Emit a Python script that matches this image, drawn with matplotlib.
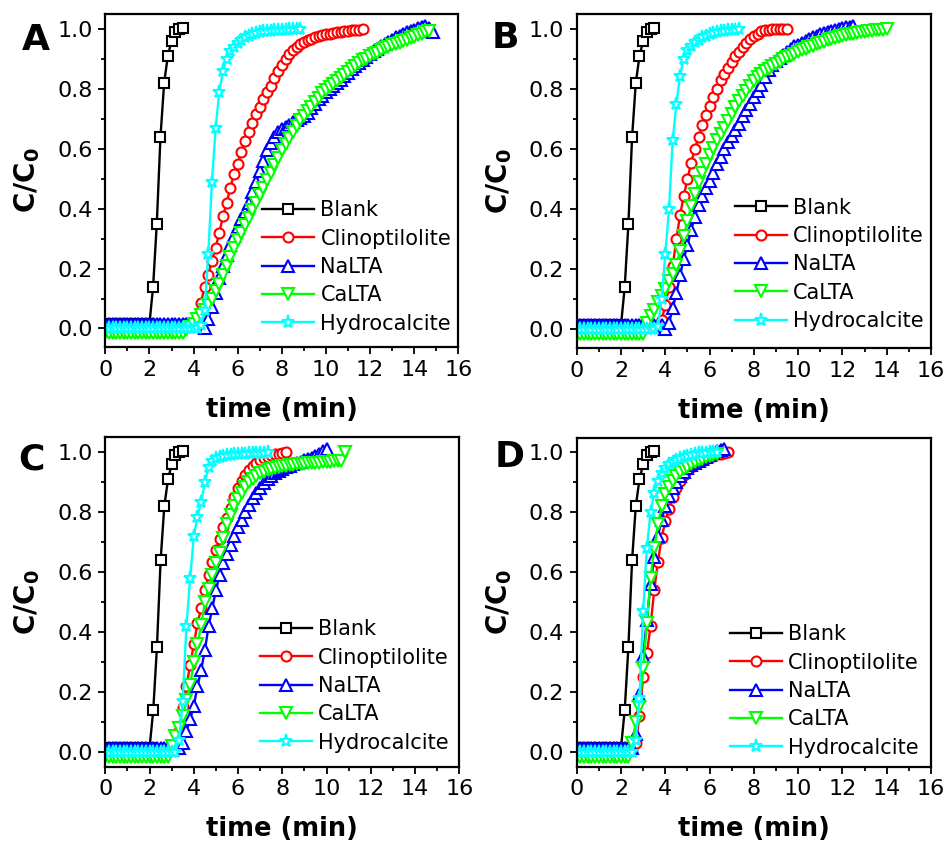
import numpy as np
import matplotlib
matplotlib.use("Agg")
import matplotlib.pyplot as plt
from matplotlib.ticker import MultipleLocator

# sampling interval of the breakthrough data (min)
dt = 1 / 6

labels = ["Blank", "Clinoptilolite", "NaLTA", "CaLTA", "Hydrocalcite"]
colors = ["black", "red", "blue", "#00ff00", "cyan"]
markers = ["s", "o", "^", "v", "*"]
msizes = [6.5, 7.2, 8.2, 8.2, 9.5]

# C/C0, one value per sample
blank = [0.015] * 13 + [0.14, 0.35, 0.64, 0.82, 0.91, 0.96, 0.99, 1.0, 1.005]

# panel A
A_clino = [0.008] * 25 + [
    0.03, 0.085, 0.14, 0.18, 0.225, 0.27, 0.32, 0.375, 0.42, 0.47,
    0.515, 0.55, 0.59, 0.625, 0.655, 0.685, 0.715, 0.74, 0.765, 0.79,
    0.81, 0.835, 0.86, 0.88, 0.9, 0.915, 0.93, 0.94, 0.95, 0.957,
    0.963, 0.968, 0.972, 0.976, 0.979, 0.982, 0.985, 0.987, 0.989, 0.991,
    0.993, 0.995, 0.996, 0.997, 0.998, 0.999]
A_naLTA = [0.015] * 27 + [
    0.0, 0.03, 0.07, 0.12, 0.17, 0.21, 0.245, 0.28, 0.31, 0.34,
    0.365, 0.39, 0.42, 0.455, 0.49, 0.525, 0.56, 0.595, 0.62, 0.64,
    0.655, 0.665, 0.672, 0.68, 0.688, 0.695, 0.703, 0.708, 0.72, 0.735,
    0.75, 0.765, 0.778, 0.79, 0.8, 0.81, 0.82, 0.83, 0.842, 0.854,
    0.866, 0.877, 0.888, 0.898, 0.908, 0.917, 0.926, 0.934, 0.942, 0.95,
    0.958, 0.965, 0.972, 0.978, 0.984, 0.989, 0.994, 0.998, 1.003, 1.008,
    1.01, 1.005, 0.99]
A_caLTA = [-0.015] * 22 + [
    -0.005, 0.005, 0.015, 0.03, 0.045, 0.06, 0.08, 0.1, 0.125, 0.15,
    0.18, 0.21, 0.24, 0.27, 0.295, 0.32, 0.345, 0.37, 0.395, 0.42,
    0.445, 0.47, 0.495, 0.52, 0.545, 0.57, 0.595, 0.615, 0.635, 0.655,
    0.675, 0.695, 0.71, 0.725, 0.74, 0.755, 0.77, 0.785, 0.795, 0.805,
    0.815, 0.825, 0.835, 0.845, 0.855, 0.865, 0.875, 0.885, 0.895, 0.9,
    0.91, 0.915, 0.92, 0.93, 0.935, 0.94, 0.945, 0.95, 0.955, 0.96,
    0.965, 0.97, 0.975, 0.98, 0.985, 0.99, 0.995]
A_hydro = [0.0] * 26 + [
    0.01, 0.06, 0.25, 0.49, 0.67, 0.79, 0.86, 0.9, 0.925, 0.94,
    0.955, 0.965, 0.972, 0.978, 0.983, 0.987, 0.99, 0.992, 0.994, 0.995,
    0.996, 0.997, 0.998, 0.998, 0.999, 0.999, 1.0, 1.0]

# panel B
B_clino = [0.008] * 23 + [
    0.03, 0.08, 0.14, 0.21, 0.3, 0.38, 0.445, 0.5, 0.555, 0.6,
    0.64, 0.68, 0.715, 0.745, 0.775, 0.8, 0.83, 0.85, 0.87, 0.89,
    0.91, 0.925, 0.94, 0.955, 0.967, 0.977, 0.985, 0.992, 0.996, 0.998,
    0.999, 1.0, 1.0, 1.0, 1.0]
B_naLTA = [0.015] * 24 + [
    0.0, 0.02, 0.07, 0.12, 0.18, 0.235, 0.28, 0.33, 0.375, 0.415,
    0.445, 0.47, 0.495, 0.52, 0.55, 0.575, 0.6, 0.625, 0.645, 0.665,
    0.685, 0.71, 0.73, 0.75, 0.775, 0.795, 0.815, 0.84, 0.865, 0.88,
    0.895, 0.905, 0.915, 0.925, 0.935, 0.942, 0.948, 0.954, 0.96, 0.966,
    0.972, 0.977, 0.982, 0.987, 0.991, 0.995, 0.998, 1.0, 1.003, 1.006,
    1.008, 1.01]
B_caLTA = [-0.015] * 19 + [
    0.02, 0.045, 0.065, 0.09, 0.11, 0.135, 0.16, 0.185, 0.215, 0.26,
    0.31, 0.36, 0.41, 0.45, 0.49, 0.52, 0.55, 0.58, 0.605, 0.63,
    0.65, 0.672, 0.695, 0.718, 0.74, 0.76, 0.778, 0.795, 0.812, 0.828,
    0.84, 0.85, 0.86, 0.868, 0.876, 0.884, 0.892, 0.899, 0.906, 0.912,
    0.918, 0.924, 0.93, 0.935, 0.94, 0.945, 0.95, 0.954, 0.958, 0.962,
    0.966, 0.97, 0.973, 0.976, 0.979, 0.982, 0.985, 0.987, 0.989, 0.991,
    0.993, 0.995, 0.996, 0.997, 0.998, 0.999]
B_hydro = [0.0] * 22 + [
    0.01, 0.1, 0.25, 0.4, 0.63, 0.75, 0.845, 0.9, 0.93, 0.945,
    0.957, 0.965, 0.972, 0.978, 0.983, 0.987, 0.99, 0.992, 0.994, 0.996,
    0.997, 0.998, 0.999]

# panel C
C_clino = [0.008] * 19 + [
    0.02, 0.07, 0.15, 0.22, 0.29, 0.36, 0.43, 0.48, 0.54, 0.59,
    0.635, 0.675, 0.71, 0.75, 0.78, 0.815, 0.85, 0.88, 0.905, 0.925,
    0.942, 0.955, 0.965, 0.973, 0.98, 0.986, 0.99, 0.993, 0.996, 0.998,
    1.0]
C_naLTA = [0.015] * 21 + [
    0.03, 0.07, 0.11, 0.155, 0.22, 0.275, 0.34, 0.42, 0.48, 0.54,
    0.59, 0.63, 0.66, 0.69, 0.72, 0.75, 0.775, 0.8, 0.825, 0.847,
    0.865, 0.882, 0.897, 0.91, 0.92, 0.93, 0.938, 0.945, 0.95, 0.955,
    0.96, 0.965, 0.969, 0.973, 0.977, 0.982, 0.988, 0.995, 1.003, 1.01]
C_caLTA = [-0.015] * 18 + [
    0.02, 0.055, 0.08, 0.12, 0.175, 0.225, 0.3, 0.36, 0.425, 0.5,
    0.545, 0.59, 0.63, 0.665, 0.715, 0.76, 0.79, 0.82, 0.845, 0.865,
    0.885, 0.9, 0.912, 0.922, 0.93, 0.936, 0.941, 0.945, 0.948, 0.951,
    0.954, 0.956, 0.958, 0.959, 0.96, 0.961, 0.962, 0.963, 0.964, 0.965,
    0.966, 0.967, 0.968, 0.969, 0.97, 0.97, 0.971, 1.0]
C_hydro = [0.0] * 20 + [
    0.04, 0.17, 0.42, 0.58, 0.72, 0.785, 0.835, 0.9, 0.95, 0.97,
    0.98, 0.985, 0.988, 0.99, 0.992, 0.993, 0.994, 0.995, 0.996, 0.997,
    0.998, 0.998, 0.999, 0.999, 1.0]

# panel D
D_clino = [0.008] * 16 + [
    0.03, 0.12, 0.25, 0.33, 0.42, 0.54, 0.635, 0.715, 0.77, 0.81,
    0.85, 0.88, 0.905, 0.925, 0.94, 0.952, 0.96, 0.967, 0.973, 0.979,
    0.984, 0.989, 0.993, 0.996, 0.999, 1.0]
D_naLTA = [0.015] * 16 + [
    0.06, 0.19, 0.32, 0.44, 0.56, 0.65, 0.72, 0.775, 0.82, 0.855,
    0.88, 0.9, 0.92, 0.935, 0.947, 0.957, 0.965, 0.972, 0.979, 0.985,
    0.991, 0.997, 1.003, 1.008, 1.01]
D_caLTA = [-0.015] * 15 + [
    0.03, 0.1, 0.15, 0.28, 0.43, 0.58, 0.68, 0.76, 0.82, 0.86,
    0.885, 0.905, 0.92, 0.933, 0.943, 0.952, 0.96, 0.967, 0.973, 0.978,
    0.983, 0.987, 0.991, 0.995]
D_hydro = [0.0] * 16 + [
    0.04, 0.18, 0.47, 0.68, 0.8, 0.865, 0.905, 0.93, 0.948, 0.96,
    0.968, 0.975, 0.98, 0.985, 0.989, 0.992, 0.995, 0.997, 0.998, 0.999,
    1.0, 1.0, 1.0]

panels = [
    ("A", [blank, A_clino, A_naLTA, A_caLTA, A_hydro]),
    ("B", [blank, B_clino, B_naLTA, B_caLTA, B_hydro]),
    ("C", [blank, C_clino, C_naLTA, C_caLTA, C_hydro]),
    ("D", [blank, D_clino, D_naLTA, D_caLTA, D_hydro]),
]

# layout (figure fractions)
ax_rects = [
    [0.1112, 0.5927, 0.3728, 0.3908],
    [0.6090, 0.5915, 0.3741, 0.3920],
    [0.1112, 0.1001, 0.3738, 0.3873],
    [0.6090, 0.0998, 0.3741, 0.3862],
]
ylims = [(-0.062, 1.05), (-0.062, 1.05), (-0.048, 1.052), (-0.049, 1.048)]
letter_pos = [(0.0232, 0.9413), (0.5192, 0.9437), (0.019, 0.4484), (0.5227, 0.4522)]
legend_pos = [(0.712, 0.24), (0.713, 0.251), (0.704, 0.245), (0.699, 0.231)]

fig = plt.figure(figsize=(9.47, 8.52), dpi=100)

for i, (letter, series) in enumerate(panels):
    ax = fig.add_axes(ax_rects[i])
    for y, lab, c, m, ms in zip(series, labels, colors, markers, msizes):
        t = np.arange(len(y)) * dt
        ax.plot(t, y, color=c, marker=m, ms=ms, mfc="white", mec=c,
                mew=1.5, lw=1.7, label=lab)

    ax.set_xlim(0, 16)
    ax.set_ylim(*ylims[i])
    ax.xaxis.set_major_locator(MultipleLocator(2))
    ax.xaxis.set_minor_locator(MultipleLocator(1))
    ax.yaxis.set_major_locator(MultipleLocator(0.2))
    ax.yaxis.set_minor_locator(MultipleLocator(0.1))
    ax.yaxis.set_major_formatter(plt.FormatStrFormatter("%.1f"))
    ax.tick_params(which="major", direction="out", length=5, width=1.3,
                   labelsize=16, pad=4)
    ax.tick_params(which="minor", direction="out", length=3, width=1.3)
    for sp in ax.spines.values():
        sp.set_linewidth(1.6)

    ax.set_xlabel("time (min)", fontsize=18.5, fontweight="bold")
    ax.xaxis.label.set_va("baseline")
    ax.xaxis.set_label_coords(0.5, -0.21)
    ax.set_ylabel(r"C/C$_\mathbf{0}$", fontsize=20, fontweight="bold")
    ax.yaxis.set_label_coords(-0.178, 0.5)

    ax.legend(frameon=False, loc="center", bbox_to_anchor=legend_pos[i],
              fontsize=15, handlelength=2.5, handletextpad=0.3,
              labelspacing=0.4, borderpad=0)

    fig.text(letter_pos[i][0], letter_pos[i][1], letter, fontsize=26,
             fontweight="bold", ha="left", va="baseline")

fig.savefig("out.png", dpi=100)
